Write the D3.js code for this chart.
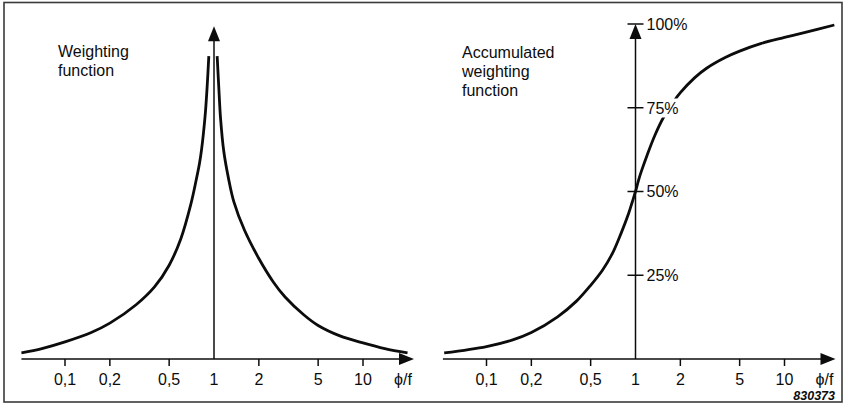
<!DOCTYPE html>
<html>
<head>
<meta charset="utf-8">
<script src="https://cdn.jsdelivr.net/npm/d3@7/dist/d3.min.js"></script>
<style>
  html, body { margin: 0; padding: 0; background: #fff; }
  svg { display: block; }
  text { font-family: "Liberation Sans", Arial, Helvetica, sans-serif; fill: #0c0c0c; }
</style>
</head>
<body>
<svg id="chart" width="844" height="404"></svg>
<script>
// Ratio axis (phase / frequency), shared by both panels
const ratioTicks = [0.1, 0.2, 0.5, 1, 2, 5, 10];
const ratioTickLabels = ["0,1", "0,2", "0,5", "1", "2", "5", "10"];
const ratioAxisExtent = [0.051, 22];
const ratioAxisTitle = "ϕ/f";

// Weighting function, drawn as two branches on either side of ratio 1
const weightLowRatio  = [0.051, 0.07, 0.1, 0.15, 0.2, 0.3, 0.4, 0.5, 0.6, 0.7,
                         0.76, 0.8, 0.825, 0.85, 0.877, 0.9, 0.923];
const weightLowValue  = [1.8, 3.1, 5.1, 7.9, 10.7, 16.2, 21.6, 28.0, 36.0, 46.3,
                         53.5, 58.5, 62.5, 67.5, 74.0, 81.5, 90.4];
const weightHighRatio = [1.05, 1.08, 1.106, 1.163, 1.25, 1.358, 1.6, 2, 2.5, 3,
                         4, 5, 7, 10, 14, 19.9];
const weightHighValue = [90.4, 80.0, 72.0, 62.0, 54.0, 47.0, 38.5, 30.0, 23.0, 18.5,
                         13.2, 10.0, 6.9, 4.8, 3.1, 1.8];
const weightAxisTop = 99.3;

// Accumulated weighting function, in percent
const accRatio = [0.052, 0.1, 0.15, 0.2, 0.3, 0.4, 0.5, 0.6, 0.7, 0.8, 0.9, 0.95, 1.0,
                  1.05, 1.1, 1.2, 1.35, 1.55, 1.8, 2, 2.5, 3, 4, 5, 7, 10, 14, 21.6];
const accValue = [1.8, 3.7, 5.7, 7.9, 12.6, 17.2, 22.0, 26.5, 31.5, 37.5, 43.5, 46.8, 50.0,
                  53.5, 56.3, 61.0, 66.8, 72.3, 76.8, 79.5, 84.0, 86.8, 90.0, 91.9, 94.2, 96.0, 97.6, 99.7];
const accTicks = [25, 50, 75, 100];
const accTickLabels = ["25%", "50%", "75%", "100%"];
const accAxisTop = 100;

const leftTitle = ["Weighting", "function"];
const rightTitle = ["Accumulated", "weighting", "function"];
const figureId = "830373";

const svg = d3.select("#chart");
const ink = "#0c0c0c";
const fs = 16;

// Figure frame
svg.append("rect")
  .attr("x", 4).attr("y", 2.5)
  .attr("width", 838).attr("height", 399.5)
  .attr("fill", "none").attr("stroke", "#3a3a3a").attr("stroke-width", 1.6);

const x = d3.scaleLog().domain([0.1, 10]).range([65, 363]);
const y = d3.scaleLinear().domain([0, 100]).range([359, 24]);

const line = d3.line()
  .x(d => x(d[0])).y(d => y(d[1]))
  .curve(d3.curveCatmullRom.alpha(0.5));

function arrowHead(g, tipX, tipY, dir) {
  const L = 15, Wd = 6;
  let pts;
  if (dir === "right") pts = [[tipX, tipY], [tipX - L, tipY - Wd], [tipX - L, tipY + Wd]];
  else pts = [[tipX, tipY], [tipX - Wd, tipY + L], [tipX + Wd, tipY + L]];
  g.append("path").attr("d", "M" + pts.join("L") + "Z").attr("fill", ink);
}

function ratioAxis(g) {
  const y0 = y(0);
  const x0 = x(ratioAxisExtent[0]), x1 = x(ratioAxisExtent[1]);
  g.append("line").attr("x1", x0).attr("x2", x1 - 8).attr("y1", y0).attr("y2", y0)
    .attr("stroke", ink).attr("stroke-width", 1.5);
  arrowHead(g, x1, y0, "right");
  const ticks = g.selectAll(".rtick").data(ratioTicks).enter().append("g")
    .attr("transform", d => `translate(${x(d)},${y0})`);
  ticks.filter(d => d !== 1).append("line")
    .attr("y1", 0).attr("y2", 7).attr("stroke", ink).attr("stroke-width", 1.5);
  ticks.append("text").attr("y", 26).attr("text-anchor", "middle")
    .attr("font-size", fs).text((d, i) => ratioTickLabels[i]);
  g.append("text").attr("x", x1 - 11).attr("y", y0 + 26).attr("text-anchor", "middle")
    .attr("font-size", fs).text(ratioAxisTitle);
}

function valueAxis(g, top) {
  const xa = x(1);
  g.append("line").attr("x1", xa).attr("x2", xa).attr("y1", y(0)).attr("y2", y(top) + 8)
    .attr("stroke", ink).attr("stroke-width", 1.5);
  arrowHead(g, xa, y(top), "up");
}

function title(g, lines, x0, y0) {
  const t = g.append("text").attr("x", x0).attr("y", y0).attr("font-size", fs);
  lines.forEach((s, i) => t.append("tspan").attr("x", x0).attr("dy", i ? 19.4 : 0).text(s));
}

// Left panel: weighting function
const left = svg.append("g");
ratioAxis(left);
valueAxis(left, weightAxisTop);
left.append("path").datum(weightLowRatio.map((r, i) => [r, weightLowValue[i]]))
  .attr("d", line).attr("fill", "none").attr("stroke", ink).attr("stroke-width", 2.8);
left.append("path").datum(weightHighRatio.map((r, i) => [r, weightHighValue[i]]))
  .attr("d", line).attr("fill", "none").attr("stroke", ink).attr("stroke-width", 2.8);
title(left, leftTitle, 58, 57);

// Right panel: accumulated weighting function
const right = svg.append("g").attr("transform", "translate(421.5,0)");
ratioAxis(right);
right.append("path").datum(accRatio.map((r, i) => [r, accValue[i]]))
  .attr("d", line).attr("fill", "none").attr("stroke", ink).attr("stroke-width", 2.8);
valueAxis(right, accAxisTop);
const at = right.selectAll(".atick").data(accTicks).enter().append("g")
  .attr("transform", d => `translate(${x(1)},${y(d)})`);
at.append("line").attr("x1", -8).attr("x2", 8).attr("stroke", ink).attr("stroke-width", 1.5);
const lab = at.append("text").attr("x", 11).attr("dy", "0.36em").attr("font-size", fs)
  .text((d, i) => accTickLabels[i]);
// white knock-out behind the percentage labels
lab.each(function() {
  const b = this.getBBox();
  d3.select(this.parentNode).insert("rect", "text")
    .attr("x", b.x - 1).attr("y", b.y - 1)
    .attr("width", b.width + 4).attr("height", b.height + 2)
    .attr("fill", "#fff");
});
title(right, rightTitle, 40.5, 57.5);

svg.append("text").attr("x", 835).attr("y", 400).attr("text-anchor", "end")
  .attr("font-size", 12.5).attr("font-style", "italic").attr("font-weight", "bold")
  .text(figureId);
</script>
</body>
</html>
